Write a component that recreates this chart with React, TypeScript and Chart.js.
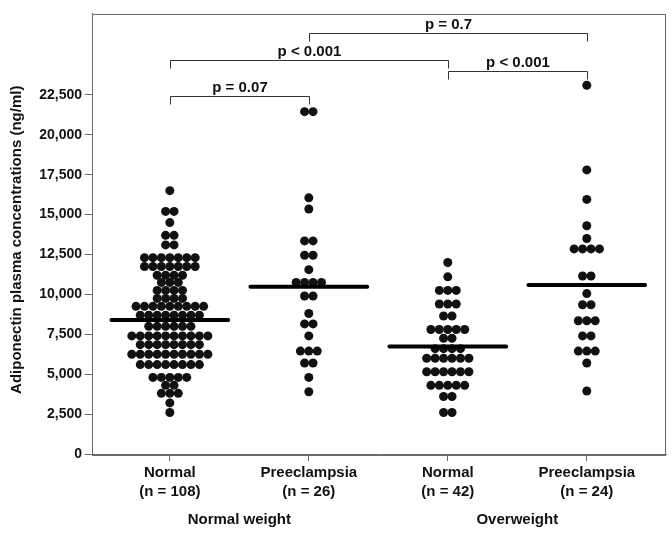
import React, { useEffect, useRef } from "react";
import { Chart, registerables } from "chart.js";

Chart.register(...registerables);

// ---------- data ----------
const categoryPositions = [1, 2, 3, 4];
const categoryLabels = [
  ["Normal", "(n = 108)"],
  ["Preeclampsia", "(n = 26)"],
  ["Normal", "(n = 42)"],
  ["Preeclampsia", "(n = 24)"],
];
const groupLabels = ["Normal weight", "Overweight"];
const groupCenters = [1.5, 3.5];
const yTickValues = [0, 2500, 5000, 7500, 10000, 12500, 15000, 17500, 20000, 22500];

const normalWeightNormal = [
  16500,
  15200, 15200,
  14500,
  13700, 13700,
  13100, 13100,
  12300, 12300, 12300, 12300, 12300, 12300, 12300,
  11750, 11750, 11750, 11750, 11750, 11750, 11750,
  11200, 11200, 11200, 11200,
  10750, 10750, 10750,
  10250, 10250, 10250, 10250,
  9750, 9750, 9750, 9750,
  9250, 9250, 9250, 9250, 9250, 9250, 9250, 9250, 9250,
  8700, 8700, 8700, 8700, 8700, 8700, 8700, 8700,
  8000, 8000, 8000, 8000, 8000, 8000,
  7400, 7400, 7400, 7400, 7400, 7400, 7400, 7400, 7400, 7400,
  6850, 6850, 6850, 6850, 6850, 6850, 6850, 6850,
  6250, 6250, 6250, 6250, 6250, 6250, 6250, 6250, 6250, 6250,
  5600, 5600, 5600, 5600, 5600, 5600, 5600, 5600,
  4800, 4800, 4800, 4800, 4800,
  4300, 4300,
  3800, 3800, 3800,
  3200,
  2600,
];
const normalWeightPreeclampsia = [
  21450, 21450,
  16050,
  15350,
  13350, 13350,
  12450, 12450,
  11550,
  10750, 10750, 10750, 10750,
  9900, 9900,
  8800,
  8150, 8150,
  7400,
  6450, 6450, 6450,
  5700, 5700,
  4800,
  3900,
];
const overweightNormal = [
  12000,
  11100,
  10250, 10250, 10250,
  9400, 9400, 9400,
  8650, 8650,
  7800, 7800, 7800, 7800, 7800,
  7250, 7250,
  6600, 6600, 6600, 6600,
  6000, 6000, 6000, 6000, 6000, 6000,
  5150, 5150, 5150, 5150, 5150, 5150,
  4300, 4300, 4300, 4300, 4300,
  3600, 3600,
  2600, 2600,
];
const overweightPreeclampsia = [
  23100,
  17800,
  15950,
  14300,
  13500,
  12850, 12850, 12850, 12850,
  11150, 11150,
  10050,
  9350, 9350,
  8350, 8350, 8350,
  7400, 7400,
  6450, 6450, 6450,
  5700,
  3950,
];
const groupValues = [
  normalWeightNormal,
  normalWeightPreeclampsia,
  overweightNormal,
  overweightPreeclampsia,
];
const groupMeans = [8400, 10480, 6730, 10590];

const bracketFrom = [1, 1, 3, 2];
const bracketTo = [2, 3, 4, 4];
const bracketLevel = [22400, 24700, 24000, 26400];
const bracketLabel = ["p = 0.07", "p < 0.001", "p < 0.001", "p = 0.7"];

// ---------- styling ----------
const FONT = "'Liberation Sans', Arial, sans-serif";
const DOT_DX = 0.0608; // horizontal dot spacing in category units
const MEAN_HALF = 0.42;

function swarm(values: number[], center: number) {
  const counts = new Map<number, number>();
  values.forEach((v) => counts.set(v, (counts.get(v) || 0) + 1));
  const seen = new Map<number, number>();
  return values.map((v) => {
    const n = counts.get(v) as number;
    const i = seen.get(v) || 0;
    seen.set(v, i + 1);
    return { x: center + (i - (n - 1) / 2) * DOT_DX, y: v };
  });
}

const overlayPlugin = {
  id: "overlay",
  afterDraw(chart: any) {
    const { ctx, chartArea, scales } = chart;
    const xs = scales.x;
    const ys = scales.y;
    ctx.save();
    // frame
    ctx.strokeStyle = "#6b6b6b";
    ctx.lineWidth = 1;
    ctx.strokeRect(
      Math.round(chartArea.left) + 0.5,
      Math.round(chartArea.top) + 0.5,
      Math.round(chartArea.right - chartArea.left) - 1,
      Math.round(chartArea.bottom - chartArea.top)
    );
    // brackets
    ctx.strokeStyle = "#333";
    ctx.fillStyle = "#111";
    ctx.font = `bold 15px ${FONT}`;
    ctx.textAlign = "center";
    ctx.textBaseline = "alphabetic";
    for (let i = 0; i < bracketLabel.length; i++) {
      const x1 = Math.round(xs.getPixelForValue(bracketFrom[i])) + 0.5;
      const x2 = Math.round(xs.getPixelForValue(bracketTo[i])) + 0.5;
      const y = Math.round(ys.getPixelForValue(bracketLevel[i])) + 0.5;
      ctx.beginPath();
      ctx.moveTo(x1, y + 8);
      ctx.lineTo(x1, y);
      ctx.lineTo(x2, y);
      ctx.lineTo(x2, y + 8);
      ctx.stroke();
      ctx.fillText(bracketLabel[i], (x1 + x2) / 2, y - 5);
    }
    // group labels
    ctx.textBaseline = "middle";
    for (let i = 0; i < groupLabels.length; i++) {
      ctx.fillText(groupLabels[i], xs.getPixelForValue(groupCenters[i]), 520);
    }
    // y title
    ctx.translate(17, (chartArea.top + chartArea.bottom) / 2 + 6);
    ctx.rotate(-Math.PI / 2);
    ctx.fillText("Adiponectin plasma concentrations (ng/ml)", 0, 0);
    ctx.restore();
  },
};

export default function App() {
  const canvasRef = useRef<HTMLCanvasElement | null>(null);

  useEffect(() => {
    if (!canvasRef.current) return;
    const meanSets = groupMeans.map((m, i) => ({
      type: "line" as const,
      data: [
        { x: categoryPositions[i] - MEAN_HALF, y: m },
        { x: categoryPositions[i] + MEAN_HALF, y: m },
      ],
      borderColor: "#000",
      borderWidth: 4,
      borderCapStyle: "round" as const,
      pointRadius: 0,
      fill: false,
    }));
    const dotSets = groupValues.map((vals, i) => ({
      type: "scatter" as const,
      data: swarm(vals, categoryPositions[i]),
      backgroundColor: "#111",
      borderWidth: 0,
      pointRadius: 4.5,
    }));
    const chart = new Chart(canvasRef.current, {
      type: "scatter",
      data: { datasets: [...meanSets, ...dotSets] as any },
      options: {
        animation: false,
        responsive: false,
        events: [],
        layout: { padding: { left: 0, top: 13.5, right: 6, bottom: 0 } },
        plugins: { legend: { display: false }, tooltip: { enabled: false } },
        scales: {
          x: {
            type: "linear",
            min: 0.44,
            max: 4.57,
            afterBuildTicks: (scale: any) => {
              scale.ticks = categoryPositions.map((v) => ({ value: v }));
            },
            afterFit: (scale: any) => {
              scale.height = 79;
            },
            grid: {
              drawOnChartArea: false,
              drawTicks: true,
              tickLength: 7,
              color: "#6b6b6b",
            },
            border: { display: true, color: "#6b6b6b" },
            ticks: {
              autoSkip: false,
              maxRotation: 0,
              padding: 2,
              color: "#111",
              font: { family: FONT, size: 15, weight: "bold", lineHeight: 1.3 },
              callback: (v: any) => {
                const idx = categoryPositions.indexOf(Number(v));
                return idx >= 0 ? categoryLabels[idx] : "";
              },
            },
          },
          y: {
            type: "linear",
            min: 0,
            max: 27600,
            afterBuildTicks: (scale: any) => {
              scale.ticks = yTickValues.map((v) => ({ value: v }));
            },
            afterFit: (scale: any) => {
              scale.width = 92;
            },
            grid: {
              drawOnChartArea: false,
              drawTicks: true,
              tickLength: 7,
              color: "#6b6b6b",
            },
            border: { display: true, color: "#6b6b6b" },
            ticks: {
              padding: 3,
              color: "#111",
              font: { family: FONT, size: 14, weight: "bold" },
              callback: (v: any) => Number(v).toLocaleString("en-US"),
            },
          },
        },
      },
      plugins: [overlayPlugin],
    });
    return () => chart.destroy();
  }, []);

  return (
    <div style={{ position: "absolute", left: 0, top: 0, width: 672, height: 533, background: "#fff" }}>
      <canvas ref={canvasRef} width={672} height={533} style={{ width: 672, height: 533 }} />
    </div>
  );
}
